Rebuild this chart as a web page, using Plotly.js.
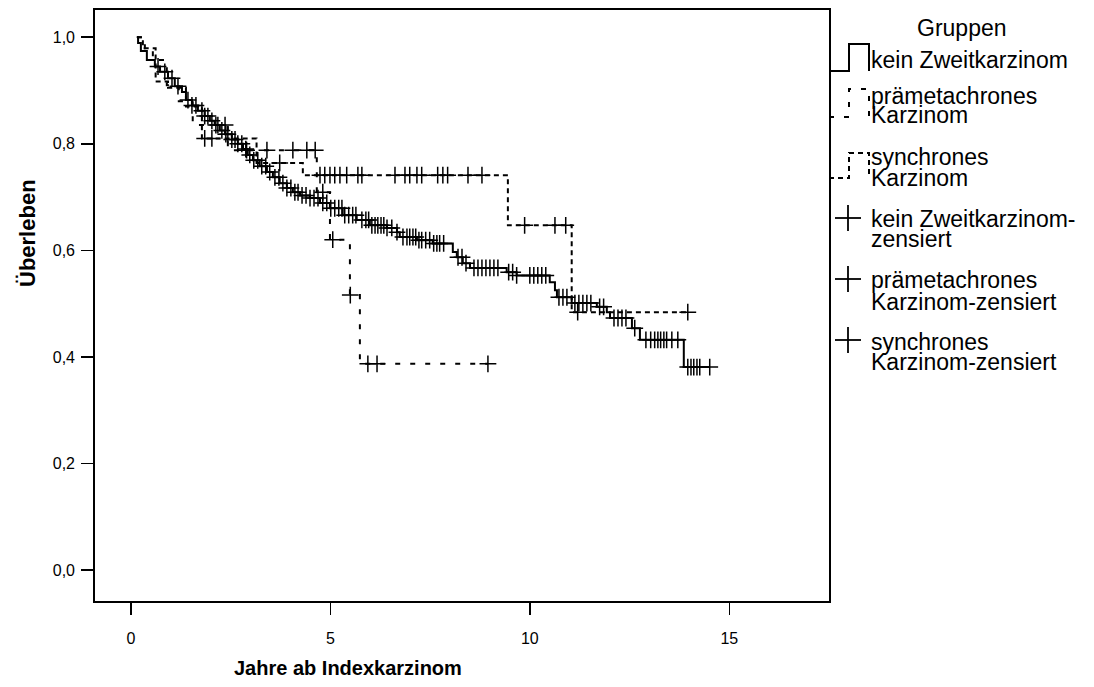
<!DOCTYPE html>
<html>
<head>
<meta charset="utf-8">
<script src="https://cdn.plot.ly/plotly-3.0.1.min.js"></script>
<style>html,body{margin:0;padding:0;background:#fff;}#chart{width:1094px;height:687px;}</style>
</head>
<body>
<div id="chart"></div>
<script>
// ---------- DATA ----------
// kein Zweitkarzinom (step start times and survival after each step)
const keinT = [0.15,0.18,0.25,0.40,0.60,0.73,0.93,1.10,1.28,1.38,1.53,1.68,1.85,1.98,2.10,2.23,2.36,2.53,2.68,2.81,2.93,3.06,3.23,3.41,3.56,3.73,3.91,4.06,4.24,4.49,4.74,4.99,5.31,5.66,5.99,6.42,6.67,6.74,7.17,7.57,8.07,8.17,8.32,8.50,9.42,9.67,10.50,10.63,10.68,11.05,11.68,11.93,12.01,12.56,12.76,13.86];
const keinS = [1.000,0.989,0.974,0.957,0.945,0.935,0.923,0.908,0.897,0.882,0.872,0.862,0.852,0.843,0.835,0.825,0.818,0.808,0.800,0.790,0.779,0.769,0.758,0.747,0.737,0.726,0.717,0.709,0.703,0.698,0.689,0.679,0.666,0.657,0.647,0.642,0.634,0.625,0.619,0.613,0.597,0.587,0.576,0.567,0.559,0.553,0.540,0.525,0.512,0.501,0.494,0.484,0.473,0.454,0.432,0.381];
const keinEnd = 14.51;
const keinCens = [0.68,0.85,1.03,1.18,1.43,1.53,1.63,1.78,1.85,1.93,2.03,2.13,2.18,2.28,2.38,2.43,2.53,2.61,2.68,2.78,
  2.88,2.98,3.08,3.18,3.28,3.38,3.48,3.61,3.71,3.81,3.91,4.01,4.11,4.19,4.29,4.39,4.49,4.59,4.69,
  4.81,4.91,5.01,5.11,5.21,5.29,5.36,5.46,5.56,5.64,5.79,5.89,5.96,6.04,6.12,6.19,6.27,6.34,6.42,6.54,
  6.67,6.82,6.92,6.99,7.07,7.14,7.22,7.29,7.39,7.49,7.59,7.67,7.74,7.84,8.20,8.30,8.40,
  8.60,8.70,8.80,8.90,9.00,9.10,9.20,9.47,9.57,9.67,10.00,10.10,10.20,10.30,10.40,10.73,10.83,10.93,
  11.13,11.23,11.33,11.43,11.53,11.75,11.85,12.11,12.21,12.31,12.41,12.63,
  12.91,13.03,13.13,13.21,13.28,13.36,13.43,13.56,13.71,13.96,14.04,14.11,14.19,14.26,14.51];

// prämetachrones Karzinom
const praeT = [0.15,0.35,0.55,0.90,1.20,1.55,2.43,4.66,4.99,5.49,5.74];
const praeS = [1.000,0.979,0.957,0.910,0.880,0.835,0.788,0.709,0.620,0.516,0.387];
const praeEnd = 8.95;
const praeCens = [2.36,2.90,3.41,4.06,4.41,4.62,4.81,5.06,5.50,5.94,6.17,8.95];

// synchrones Karzinom
const synT = [0.15,0.30,0.62,0.93,1.38,1.78,3.15,4.31,9.45,11.05];
const synS = [1.000,0.979,0.917,0.905,0.870,0.810,0.764,0.741,0.647,0.484];
const synEnd = 13.96;
const synCens = [1.85,2.03,3.73,4.74,4.86,4.99,5.11,5.24,5.41,5.69,5.79,6.62,6.87,6.99,7.17,7.29,7.69,7.82,7.94,8.45,8.80,9.87,10.63,10.90,11.20,13.96];

const xTicks = [0,5,10,15];
const yTicks = [0,0.2,0.4,0.6,0.8,1.0];
const yTickText = ['0,0','0,2','0,4','0,6','0,8','1,0'];

const legendTitle = 'Gruppen';
const legendLines = [
  ['kein Zweitkarzinom'],
  ['prämetachrones','Karzinom'],
  ['synchrones','Karzinom'],
  ['kein Zweitkarzinom-','zensiert'],
  ['prämetachrones','Karzinom-zensiert'],
  ['synchrones','Karzinom-zensiert']
];

// ---------- HELPERS ----------
function stepAt(ts, ss, t){ let v = ss[0]; for(let i=0;i<ts.length;i++){ if(ts[i] <= t + 1e-9) v = ss[i]; } return v; }
function curve(ts, ss, end, dash){
  return {x: ts.concat([end]), y: ss.concat([ss[ss.length-1]]), mode:'lines', type:'scatter',
    line:{shape:'hv', color:'#000', width:2, dash: dash}, hoverinfo:'skip', showlegend:false};
}
function cens(ts, ss, cs){
  return {x: cs, y: cs.map(t => stepAt(ts, ss, t)), mode:'markers', type:'scatter',
    marker:{symbol:'cross-thin', size:12, color:'#000', line:{color:'#000', width:1.5}}, hoverinfo:'skip', showlegend:false};
}

const DASH_PRAE = '5px,10px';
const DASH_SYN = '5px,4px';

const data = [
  curve(keinT, keinS, keinEnd, 'solid'),
  curve(praeT, praeS, praeEnd, DASH_PRAE),
  curve(synT, synS, synEnd, DASH_SYN),
  cens(keinT, keinS, keinCens),
  cens(praeT, praeS, praeCens),
  cens(synT, synS, synCens)
];

// pixel -> paper coordinates (plot area 95..829 x 10..601)
const L = 95, R = 829, T = 10, B = 601;
const px = x => (x - L) / (R - L);
const py = y => (B - y) / (B - T);
function pathPx(pts){ return pts.map((p,i)=> (i?'L':'M') + px(p[0]).toFixed(5) + ',' + py(p[1]).toFixed(5)).join(' '); }

const shapes = [];
function glyph(top, bottom, dash){
  shapes.push({type:'path', xref:'paper', yref:'paper',
    path: pathPx([[829,bottom],[849,bottom],[849,top],[869,top],[869,bottom]]),
    line:{color:'#000', width:2, dash: dash}});
}
glyph(44, 71, 'solid');
glyph(89, 117, DASH_PRAE);
glyph(153, 178, DASH_SYN);
function plus(cx, cy, h){
  shapes.push({type:'line', xref:'paper', yref:'paper', x0:px(cx-h), x1:px(cx+h), y0:py(cy), y1:py(cy), line:{color:'#000', width:1.8}});
  shapes.push({type:'line', xref:'paper', yref:'paper', x0:px(cx), x1:px(cx), y0:py(cy-h), y1:py(cy+h), line:{color:'#000', width:1.8}});
}
plus(848, 218, 13);
plus(848, 279, 13);
plus(848, 340, 13);

const legFont = {family:'Liberation Sans, Arial, sans-serif', size:23, color:'#000'};
const annotations = [];
annotations.push({xref:'paper', yref:'paper', x:px(962), y:py(28.5), text:legendTitle, showarrow:false, xanchor:'center', yanchor:'middle', font:legFont});
const lineCenters = [[60],[95.5,115.5],[157.5,178.5],[218.5,238.5],[279.5,301.5],[341.5,361.5]];
legendLines.forEach((lines, i) => {
  lines.forEach((txt, j) => {
    annotations.push({xref:'paper', yref:'paper', x:px(870), y:py(lineCenters[i][j]), text:txt, showarrow:false, xanchor:'left', yanchor:'middle', font:legFont, borderpad:0});
  });
});
// axis titles
annotations.push({xref:'paper', yref:'paper', x:px(348), y:py(668), text:'<b>Jahre ab Indexkarzinom</b>', showarrow:false, xanchor:'center', yanchor:'middle',
  font:{family:'Liberation Sans, Arial, sans-serif', size:20, color:'#000'}});
annotations.push({xref:'paper', yref:'paper', x:px(27), y:py(233), text:'<b>Überleben</b>', showarrow:false, textangle:-90, xanchor:'center', yanchor:'middle',
  font:{family:'Liberation Sans, Arial, sans-serif', size:22, color:'#000'}});

const tickFont = {family:'Liberation Sans, Arial, sans-serif', size:16, color:'#000'};
const layout = {
  width:1094, height:687,
  margin:{l:L, r:1094-R, t:T, b:687-B, pad:0},
  paper_bgcolor:'#fff', plot_bgcolor:'#fff',
  showlegend:false,
  xaxis:{range:[-0.9,17.5], tickvals:xTicks, ticks:'outside', ticklen:12, tickwidth:1.5, tickcolor:'#000',
    showline:true, mirror:true, linecolor:'#000', linewidth:1.8, showgrid:false, zeroline:false, tickfont:tickFont, ticklabelstandoff:10, fixedrange:true},
  yaxis:{range:[-0.058,1.051], tickvals:yTicks, ticktext:yTickText, ticks:'outside', ticklen:12, tickwidth:1.5, tickcolor:'#000',
    showline:true, mirror:true, linecolor:'#000', linewidth:1.8, showgrid:false, zeroline:false, tickfont:tickFont, ticklabelstandoff:3, fixedrange:true},
  shapes: shapes,
  annotations: annotations
};

Plotly.newPlot('chart', data, layout, {displayModeBar:false, staticPlot:true});
</script>
</body>
</html>
